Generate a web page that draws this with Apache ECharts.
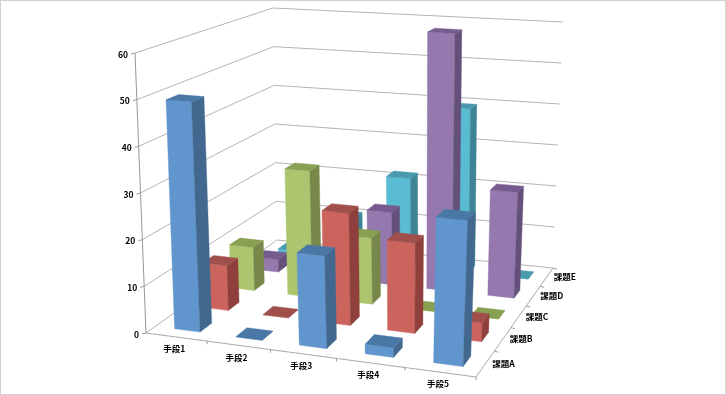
<!DOCTYPE html>
<html>
<head>
<meta charset="utf-8">
<style>
html, body { margin: 0; padding: 0; background: #fff; }
#main { width: 726px; height: 395px; }
</style>
<script src="https://cdn.jsdelivr.net/npm/echarts@6/dist/echarts.min.js"></script>
</head>
<body>
<div id="main"></div>
<script>
var categories = ['手段1', '手段2', '手段3', '手段4', '手段5'];
var seriesNames = ['課題A', '課題B', '課題C', '課題D', '課題E'];
var valueTicks = [0, 10, 20, 30, 40, 50, 60];
var taskA = [49.5, 0, 19.5, 2, 30];
var taskB = [10, 0, 24.5, 19.5, 4];
var taskC = [10, 29, 15, 0, 0];
var taskD = [3, 0, 17, 60, 24.3];
var taskE = [1, 10.5, 21.5, 39.5, 0];
var seriesValues = [taskA, taskB, taskC, taskD, taskE];
// front, side, top
var palette = [
    ['#6096cd', '#42688f', '#4a78a6'],
    ['#cc645e', '#8f403d', '#a04f4b'],
    ['#adc56e', '#78884a', '#88a052'],
    ['#9478ae', '#64507a', '#765c8e'],
    ['#5abcd2', '#3c8496', '#4a9aae']
];

// box corners on screen, floor and value-60 plane: front-left, front-right, back-right, back-left
var floorQuad = [[146, 333], [476, 377], [553, 268], [277, 240]];
var topQuad = [[135, 53], [488, 80], [563, 22], [273, 8]];

function squareToQuad(q) {
    var dx1 = q[1][0] - q[2][0], dx2 = q[3][0] - q[2][0], sx = q[0][0] - q[1][0] + q[2][0] - q[3][0];
    var dy1 = q[1][1] - q[2][1], dy2 = q[3][1] - q[2][1], sy = q[0][1] - q[1][1] + q[2][1] - q[3][1];
    var den = dx1 * dy2 - dx2 * dy1;
    var g = (sx * dy2 - dx2 * sy) / den, h = (dx1 * sy - sx * dy1) / den;
    var a = q[1][0] - q[0][0] + g * q[1][0], b = q[3][0] - q[0][0] + h * q[3][0];
    var d = q[1][1] - q[0][1] + g * q[1][1], e = q[3][1] - q[0][1] + h * q[3][1];
    return function (u, v) {
        var w = g * u + h * v + 1;
        return [(a * u + b * v + q[0][0]) / w, (d * u + e * v + q[0][1]) / w];
    };
}
var floorAt = squareToQuad(floorQuad);
var topAt = squareToQuad(topQuad);

// u along categories, v along series, z 0..1 up the value axis
function project(u, v, z) {
    var p0 = floorAt(u, v), p1 = topAt(u, v);
    return [p0[0] + (p1[0] - p0[0]) * z, p0[1] + (p1[1] - p0[1]) * z];
}

// read u and z from the hidden grid axes
function gridPos(params, api, cat, val) {
    var c = api.coord([cat, val]), r = params.coordSys;
    return { u: (c[0] - r.x) / r.width, z: (r.y + r.height - c[1]) / r.height };
}

function face(points, color) {
    return { type: 'polygon', shape: { points: points }, style: { fill: color, stroke: color, lineWidth: 0.4 } };
}

function barRenderer(si) {
    var halfU = 0.042, halfV = 0.04, shiftU = 0.006;
    var vc = (si + 0.5) / seriesNames.length;
    return function (params, api) {
        var pos = gridPos(params, api, api.value(0), api.value(1));
        var uc = pos.u + shiftU;
        var u0 = uc - halfU, u1 = uc + halfU, v0 = vc - halfV, v1 = vc + halfV, z = pos.z;
        var colors = palette[si];
        return {
            type: 'group',
            children: [
                face([project(u0, v0, 0), project(u1, v0, 0), project(u1, v0, z), project(u0, v0, z)], colors[0]),
                face([project(u1, v0, 0), project(u1, v1, 0), project(u1, v1, z), project(u1, v0, z)], colors[1]),
                face([project(u0, v0, z), project(u1, v0, z), project(u1, v1, z), project(u0, v1, z)], colors[2])
            ]
        };
    };
}

var labelFont = 'bold 8.5px "Noto Sans CJK JP", sans-serif';
var gridColor = '#b4b4b4';

function line(points, color) {
    return { type: 'polyline', shape: { points: points }, style: { fill: 'none', stroke: color, lineWidth: 1 } };
}
function label(text, x, y, align) {
    return { type: 'text', style: { text: text, x: x, y: y, align: align, verticalAlign: 'middle', font: labelFont, fill: '#000' } };
}

function renderWall(params, api) {
    var z = gridPos(params, api, 0, api.value(1)).z;
    var a = project(0, 0, z);
    return {
        type: 'group',
        children: [
            line([a, project(0, 1, z), project(1, 1, z)], gridColor),
            line([[a[0] - 4, a[1] + 1], a], '#999'),
            label(String(api.value(1)), a[0] - 7, a[1] + 1.5, 'right')
        ]
    };
}

function renderCategoryAxis(params, api) {
    var pos = gridPos(params, api, api.value(0), 0);
    var p = project(pos.u, 0, 0), t = project(pos.u + 0.1, 0, 0);
    return {
        type: 'group',
        children: [
            line([t, [t[0], t[1] + 3]], '#999'),
            label(categories[api.value(0)], p[0] - 2, p[1] + 12, 'center')
        ]
    };
}

function renderSeriesAxis(params, api) {
    var v = (api.value(0) + 0.5) / seriesNames.length;
    var p = project(1, v, 0), t = project(1, v + 0.1, 0);
    return {
        type: 'group',
        children: [
            line([t, [t[0] + 4, t[1] + 1]], '#999'),
            label(seriesNames[api.value(0)], p[0] + 7, p[1], 'left')
        ]
    };
}

function renderFrame() {
    return {
        type: 'group',
        children: [
            line([project(0, 0, 0), project(0, 0, 1)], '#999'),
            line([project(0, 0, 0), project(1, 0, 0), project(1, 1, 0)], '#aaa')
        ]
    };
}

var series = [
    { type: 'custom', name: 'wall', renderItem: renderWall, data: valueTicks.map(function (t) { return [0, t]; }), clip: false, silent: true },
    { type: 'custom', name: 'frame', renderItem: renderFrame, data: [[0, 0]], clip: false, silent: true },
    { type: 'custom', name: 'catAxis', renderItem: renderCategoryAxis, data: categories.map(function (c, i) { return [i, 0]; }), clip: false, silent: true },
    { type: 'custom', name: 'serAxis', renderItem: renderSeriesAxis, data: seriesNames.map(function (c, i) { return [i, 0]; }), clip: false, silent: true }
];
// back row first so nearer bars paint over it
for (var si = seriesNames.length - 1; si >= 0; si--) {
    series.push({
        type: 'custom',
        name: seriesNames[si],
        renderItem: barRenderer(si),
        data: seriesValues[si].map(function (val, i) { return [i, val]; }),
        clip: false
    });
}

var myChart = echarts.init(document.getElementById('main'));
var option = {
    animation: false,
    backgroundColor: '#fff',
    grid: { left: 0, right: 0, top: 0, bottom: 0 },
    xAxis: { type: 'category', data: categories, show: false },
    yAxis: { type: 'value', min: 0, max: 60, interval: 10, show: false },
    graphic: [
        { type: 'rect', shape: { x: 0, y: 0, width: 726, height: 395 }, style: { fill: 'none', stroke: '#d0d0d0', lineWidth: 2 }, silent: true }
    ],
    series: series
};
myChart.setOption(option);
</script>
</body>
</html>
